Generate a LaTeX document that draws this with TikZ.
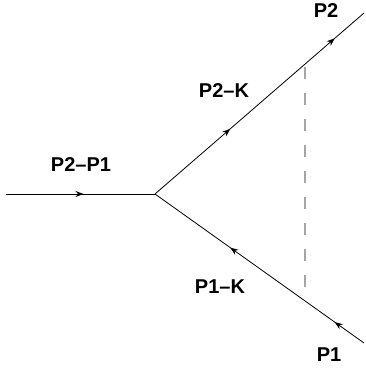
\documentclass[tikz,border=0pt]{standalone}
\usepackage{fontspec}
\setmainfont{Liberation Sans}
\usepackage{tikz}
\usetikzlibrary{arrows.meta,decorations.markings}

\begin{document}
\begin{tikzpicture}[
    x=1pt, y=-1pt,
    line/.style={line width=0.8pt},
    fermion/.style={line, postaction={decorate},
        decoration={markings, mark=at position #1 with {\arrow{Stealth[length=8pt,width=6pt]}}}},
    twoarrows/.style={line, postaction={decorate},
        decoration={markings,
            mark=at position 0.36 with {\arrow{Stealth[length=8pt,width=6pt]}},
            mark=at position 0.86 with {\arrow{Stealth[length=8pt,width=6pt]}}}},
    cut/.style={dashed, dash pattern=on 12pt off 14pt, gray!70, line width=1.2pt},
    lbl/.style={font=\bfseries\fontsize{20}{23}\selectfont, inner sep=0pt}
]
    \useasboundingbox (0,0) rectangle (365,371);

    % Vertex and legs
    \coordinate (in) at (6,194);
    \coordinate (v) at (155,194);
    \coordinate (p2) at (364,13);
    \coordinate (p1) at (364,343);

    % Cut
    \coordinate (cuta) at (305,67);
    \coordinate (cutb) at (305,293);

    % Lines
    \draw[fermion=0.52] (in) -- (v);
    \draw[twoarrows] (v) -- (p2);
    \draw[line, postaction={decorate}, decoration={markings,
            mark=at position 0.14 with {\arrow{Stealth[length=8pt,width=6pt]}},
            mark=at position 0.64 with {\arrow{Stealth[length=8pt,width=6pt]}}}] (p1) -- (v);
    \draw[cut] (cuta) -- (cutb);

    % Labels
    \node[lbl] (lin) at (81,165) {P2--P1};
    \node[lbl] (lup) at (224,91) {P2--K};
    \node[lbl] (lp2) at (326,11) {P2};
    \node[lbl] (llo) at (220,287) {P1--K};
    \node[lbl] (lp1) at (329,355) {P1};
\end{tikzpicture}
\end{document}
